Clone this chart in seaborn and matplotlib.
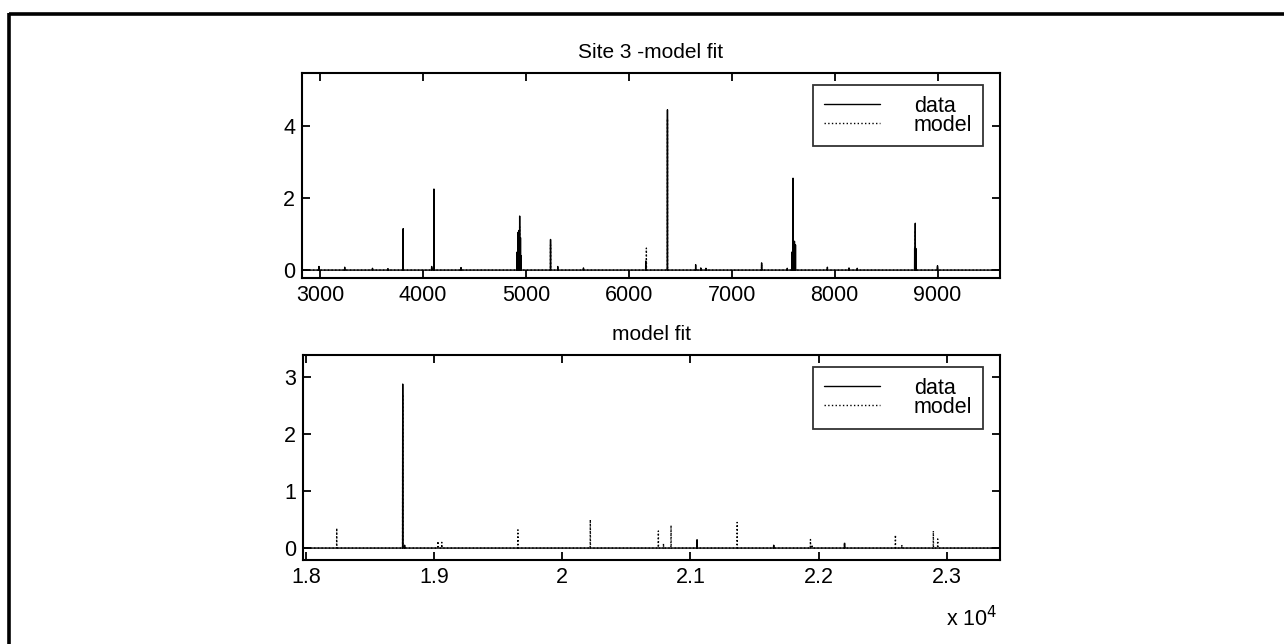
import numpy as np
import pandas as pd
import matplotlib
matplotlib.use("Agg")
import matplotlib.pyplot as plt
from matplotlib.lines import Line2D
import seaborn as sns

# ---- Site 3 spectrum, 3000-9000 range: peak positions and amplitudes ----
site3_data_pos = [2990, 3240, 3510, 3660, 3808, 4085, 4107, 4370, 4915, 4925,
                  4932, 4940, 4948, 4955, 5240, 5310, 5560, 6165, 6376, 6650,
                  6700, 6750, 7291, 7540, 7585, 7596, 7610, 7620, 7930, 8140,
                  8220, 8778, 8784, 8790, 9000]
site3_data_amp = [0.10, 0.08, 0.05, 0.04, 1.15, 0.10, 2.25, 0.07, 0.50, 1.05,
                  1.10, 1.50, 0.90, 0.40, 0.85, 0.10, 0.06, 0.25, 4.45, 0.15,
                  0.06, 0.05, 0.20, 0.05, 0.50, 2.55, 0.80, 0.70, 0.08, 0.06,
                  0.05, 0.60, 1.30, 0.60, 0.12]
site3_model_pos = [3808, 4085, 4107, 4940, 5240, 6171, 6376, 7291, 7596, 8784, 9000]
site3_model_amp = [1.00, 0.10, 2.10, 1.20, 0.70, 0.61, 4.20, 0.15, 2.30, 1.10, 0.10]

# ---- model fit, 18000-23400 range ----
fit_data_pos = [18755, 18770, 21052, 21650, 22203]
fit_data_amp = [2.88, 0.05, 0.12, 0.05, 0.08]
fit_model_pos = [18240, 18755, 19030, 19060, 19654, 20219, 20750, 20790, 20849,
                 21052, 21365, 21650, 21937, 21950, 22203, 22600, 22650, 22896,
                 22930]
fit_model_amp = [0.35, 2.70, 0.12, 0.10, 0.32, 0.50, 0.30, 0.08, 0.40, 0.17,
                 0.45, 0.06, 0.15, 0.06, 0.10, 0.23, 0.06, 0.30, 0.16]

top_xticks = [3000, 4000, 5000, 6000, 7000, 8000, 9000]
top_yticks = [0, 2, 4]
bot_xticks = [18000, 19000, 20000, 21000, 22000, 23000]
bot_xticklabels = ["1.8", "1.9", "2", "2.1", "2.2", "2.3"]
bot_yticks = [0, 1, 2, 3]
series_labels = ["data", "model"]


def spike_trace(pos, amp, x0, x1, half_width=1.0):
    """Baseline at zero with a narrow triangular spike at each position."""
    xs, ys = [x0], [0.0]
    for p, a in sorted(zip(pos, amp)):
        xs += [p - half_width, p, p + half_width]
        ys += [0.0, a, 0.0]
    xs.append(x1)
    ys.append(0.0)
    return pd.DataFrame({"x": xs, "y": ys})


sns.set_theme(style="ticks")
plt.rcParams["font.family"] = ["Liberation Sans", "DejaVu Sans"]
plt.rcParams.update({
    "axes.edgecolor": "black",
    "axes.linewidth": 1.5,
    "xtick.direction": "in",
    "ytick.direction": "in",
    "xtick.major.size": 6,
    "ytick.major.size": 6,
    "xtick.major.width": 1.3,
    "ytick.major.width": 1.3,
    "xtick.top": True,
    "ytick.right": True,
    "xtick.color": "black",
    "ytick.color": "black",
    "xtick.labelsize": 15.5,
    "ytick.labelsize": 15.5,
    "text.color": "black",
})

fig = plt.figure(figsize=(12.84, 6.44), dpi=100)
ax1 = fig.add_axes([0.2352, 0.5683, 0.5436, 0.3183])
ax2 = fig.add_axes([0.2360, 0.1304, 0.5428, 0.3183])

panels = [
    (ax1, site3_data_pos, site3_data_amp, site3_model_pos, site3_model_amp,
     (2825, 9607), (-0.22, 5.47), "Site 3 -model fit"),
    (ax2, fit_data_pos, fit_data_amp, fit_model_pos, fit_model_amp,
     (17977, 23416), (-0.21, 3.39), "model fit"),
]

for ax, dpos, damp, mpos, mamp, xlim, ylim, title in panels:
    d = spike_trace(dpos, damp, *xlim)
    m = spike_trace(mpos, mamp, *xlim)
    sns.lineplot(data=d, x="x", y="y", ax=ax, sort=False, estimator=None,
                 color="black", linewidth=1.0, label=series_labels[0])
    sns.lineplot(data=m, x="x", y="y", ax=ax, sort=False, estimator=None,
                 color="black", linewidth=1.0, linestyle=":",
                 label=series_labels[1])
    ax.set_xlim(*xlim)
    ax.set_ylim(*ylim)
    ax.set_xlabel("")
    ax.set_ylabel("")
    ax.set_title(title, fontsize=15, pad=11)
    ax.tick_params(pad=5)
    leg = ax.legend(loc="upper right", bbox_to_anchor=(0.976, 0.941),
                    borderaxespad=0, fontsize=15.5, frameon=True, fancybox=False,
                    edgecolor="black", labelspacing=-0.1, handlelength=2.6,
                    handletextpad=1.6, borderpad=0.5)
    leg.get_frame().set_linewidth(1.3)
    for t in leg.get_texts():
        t.set_color("black")

ax1.set_xticks(top_xticks)
ax1.set_xticklabels([str(v) for v in top_xticks])
ax1.set_yticks(top_yticks)
ax2.set_xticks(bot_xticks)
ax2.set_xticklabels(bot_xticklabels)
ax2.set_yticks(bot_yticks)

fig.text(0.777, 0.028, r"x 10$^4$", ha="right", va="baseline", fontsize=15.5)

# Frame lines along the top and left edges of the figure
fig.add_artist(Line2D([9 / 1284, 1.0], [1 - 14 / 644, 1 - 14 / 644],
                      transform=fig.transFigure, color="black", linewidth=2.6,
                      solid_capstyle="butt"))
fig.add_artist(Line2D([9 / 1284, 9 / 1284], [0.0, 1 - 13 / 644],
                      transform=fig.transFigure, color="black", linewidth=2.6,
                      solid_capstyle="butt"))

fig.savefig("out.png", dpi=100, facecolor="white")
